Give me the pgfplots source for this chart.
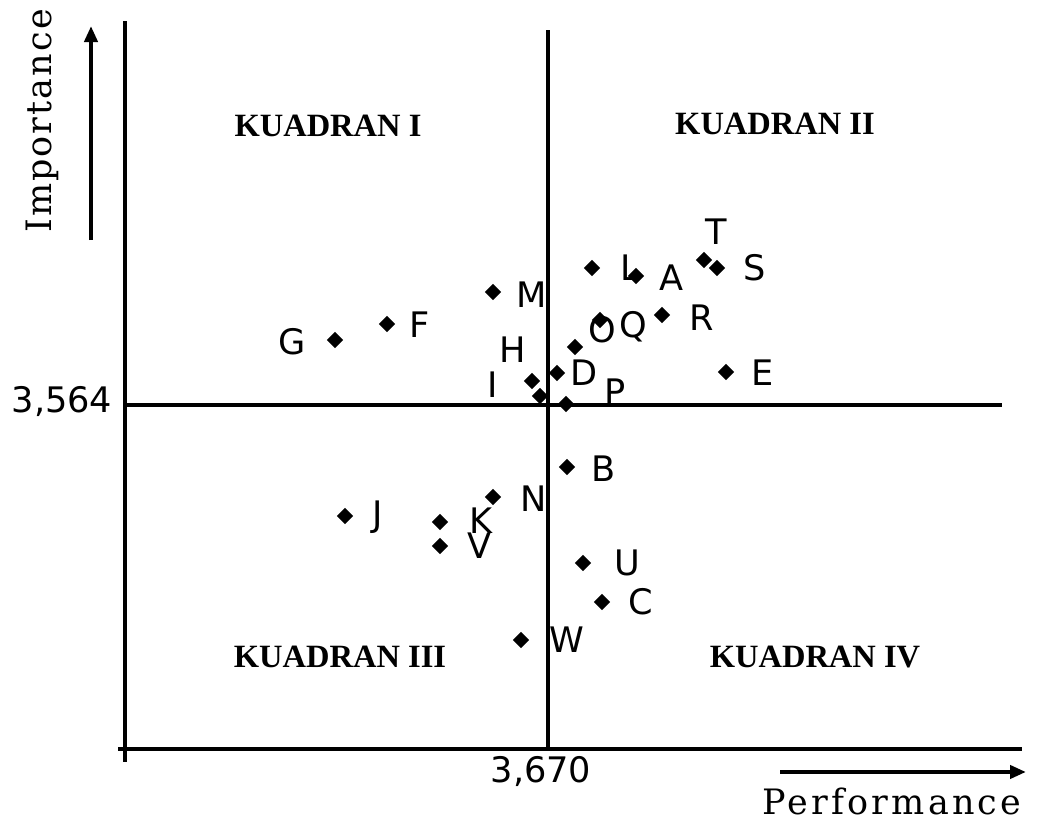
\documentclass[border=0pt]{standalone}
\usepackage{pgfplots}
\pgfplotsset{compat=1.18}
\usepackage{fontspec}
\setmainfont{Liberation Serif}
\newfontfamily\lblfont{DejaVu Sans}
\newfontfamily\perffont[LetterSpace=9]{DejaVu Serif}
\newfontfamily\impfont[LetterSpace=6]{DejaVu Serif}
\usetikzlibrary{arrows.meta}
\begin{document}
\begin{tikzpicture}
\begin{axis}[
    scale only axis,
    width=10.42cm, height=8.30cm,
    xmin=0, xmax=1042, ymin=0, ymax=830,
    y dir=reverse,
    axis lines=none,
    clip=false,
  ]
  % bounding box of the picture
  \path (rel axis cs:0,0) rectangle (rel axis cs:1,1);

  % frame and the two quadrant lines
  \addplot[black, line width=0.9pt] coordinates {(125,21) (125,762)};
  \addplot[black, line width=0.9pt] coordinates {(118,749) (1022,749)};
  \addplot[black, line width=0.9pt] coordinates {(548,30) (548,749)};
  \addplot[black, line width=0.9pt] coordinates {(125,405) (1002,405)};

  % axis arrows
  \draw[line width=1.2pt, -{Triangle[length=0.16cm, width=0.13cm]}] (axis cs:91,240) -- (axis cs:91,26);
  \draw[line width=1.2pt, -{Triangle[length=0.16cm, width=0.13cm]}] (axis cs:780,772) -- (axis cs:1026,772);

  % attributes
  \addplot[only marks, mark=square*, mark size=1.45pt, mark options={rotate=45}, black] coordinates {
    (335,340) (387,324) (493,292) (592,268) (636,276) (704,260) (717,268)
    (662,315) (600,320) (575,347) (557,373) (532,381) (540,396) (566,404)
    (726,372) (567,467) (493,497) (345,516) (440,522) (440,546) (583,563)
    (602,602) (521,640)
  };

  % point labels
  \begin{scope}[every node/.style={font=\lblfont\fontsize{10}{12}\selectfont, inner sep=0pt}]
    \node at (axis cs:292,342) {G};
    \node at (axis cs:420,325) {F};
    \node at (axis cs:532,295) {M};
    \node at (axis cs:513,350) {H};
    \node at (axis cs:493,385) {I};
    \node at (axis cs:584,373) {D};
    \node at (axis cs:615,392) {P};
    \node at (axis cs:630,268) {L};
    \node at (axis cs:672,278) {A};
    \node at (axis cs:716,232) {T};
    \node at (axis cs:755,268) {S};
    \node at (axis cs:702,318) {R};
    \node at (axis cs:602,330) {O};
    \node at (axis cs:633,327) {Q};
    \node at (axis cs:763,373) {E};
    \node at (axis cs:604,469) {B};
    \node at (axis cs:534,499) {N};
    \node at (axis cs:378,517) {J};
    \node at (axis cs:481,521) {K};
    \node at (axis cs:480,546) {V};
    \node at (axis cs:627,563) {U};
    \node at (axis cs:641,602) {C};
    \node at (axis cs:567,640) {W};
    % reference values
    \node at (axis cs:62,401) {3,564};
    \node at (axis cs:541,772) {3,670};
  \end{scope}

  % quadrant names
  \begin{scope}[every node/.style={font=\bfseries\fontsize{9.25}{11}\selectfont, inner sep=0pt}]
    \node at (axis cs:328,126) {KUADRAN I};
    \node at (axis cs:775,124) {KUADRAN II};
    \node at (axis cs:340,657) {KUADRAN III};
    \node at (axis cs:815,657) {KUADRAN IV};
  \end{scope}

  % axis titles
  \node[font=\perffont\fontsize{9.95}{12}\selectfont, inner sep=0pt, anchor=base] at (axis cs:892,815) {Performance};
  \node[font=\impfont\fontsize{9.95}{12}\selectfont, inner sep=0pt, anchor=base, rotate=90] at (axis cs:52,121) {Importance};
\end{axis}
\end{tikzpicture}
\end{document}
